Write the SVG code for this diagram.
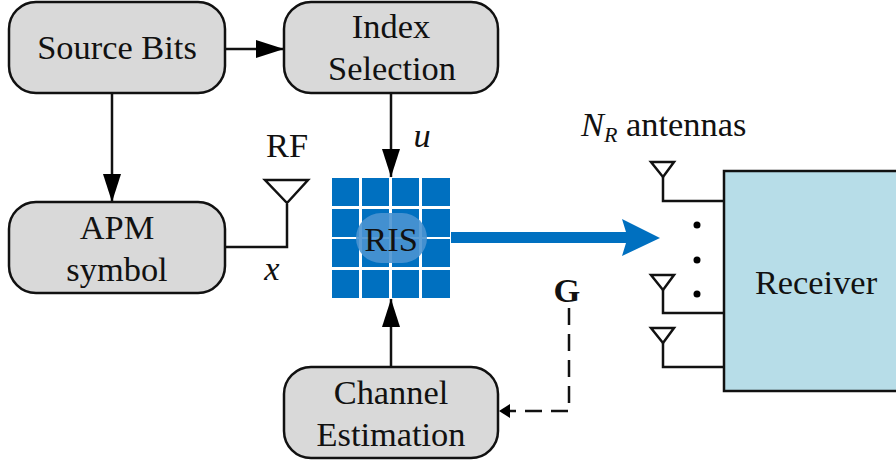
<svg xmlns="http://www.w3.org/2000/svg" width="896" height="462" viewBox="0 0 896 462">
<style>
text{font-family:"Liberation Serif","Times New Roman",serif;font-size:34.4px;fill:#111;text-anchor:middle}
.i{font-style:italic}
.box{fill:#d9d9d9;stroke:#111;stroke-width:2.5}
.w{fill:none;stroke:#111;stroke-width:2.5}
.ant{fill:#fff;stroke:#111;stroke-width:2.5}
.c{fill:#0070c0}
</style>
<defs>
<marker id="a" markerUnits="userSpaceOnUse" markerWidth="28" markerHeight="18" refX="28" refY="9" orient="auto" viewBox="0 0 28 18"><path d="M0 0L28 9L0 18z" fill="#000"/></marker>
</defs>
<rect width="896" height="462" fill="#fff"/>
<g id="connectors">
<path class="w" d="M225 49H284" marker-end="url(#a)"/>
<path class="w" d="M112 93V202" marker-end="url(#a)"/>
<path class="w" d="M391 93V177" marker-end="url(#a)"/>
<path class="w" d="M391 366V299" marker-end="url(#a)"/>
<path class="w" d="M225 247H287V204"/>
<path class="w" stroke-dasharray="17 9" d="M569 308V411H510"/>
<path d="M510 404L499 411L510 418z" fill="#000"/>
<path d="M451 232H626L622 219L660 238L622 256L626 243H451z" class="c"/>
</g>
<g id="source-bits"><rect class="box" x="9" y="2" width="216" height="91" rx="27"/><text x="117" y="58.500">Source Bits</text></g>
<g id="index-selection"><rect class="box" x="284" y="2" width="214" height="91" rx="27"/><text x="391" y="38">Index</text><text x="392" y="80">Selection</text></g>
<g id="apm-symbol"><rect class="box" x="9" y="202" width="216" height="91" rx="27"/><text x="117" y="239">APM</text><text x="117" y="281">symbol</text></g>
<g id="channel-estimation"><rect class="box" x="284" y="367" width="214" height="91" rx="27"/><text x="391" y="404">Channel</text><text x="391" y="446">Estimation</text></g>
<g id="rf-antenna"><path class="ant" d="M265 180H308L287 203z"/><text x="287" y="157">RF</text><text class="i" x="272" y="280">x</text></g>
<text class="i" x="422" y="147">u</text>
<g id="ris">
<rect class="c" x="332" y="178" width="27" height="28"/><rect class="c" x="362" y="178" width="27" height="28"/><rect class="c" x="392" y="178" width="27" height="28"/><rect class="c" x="422" y="178" width="28" height="28"/>
<rect class="c" x="332" y="209" width="27" height="28"/><rect class="c" x="362" y="209" width="27" height="28"/><rect class="c" x="392" y="209" width="27" height="28"/><rect class="c" x="422" y="209" width="28" height="28"/>
<rect class="c" x="332" y="239" width="27" height="28"/><rect class="c" x="362" y="239" width="27" height="28"/><rect class="c" x="392" y="239" width="27" height="28"/><rect class="c" x="422" y="239" width="28" height="28"/>
<rect class="c" x="332" y="270" width="27" height="28"/><rect class="c" x="362" y="270" width="27" height="28"/><rect class="c" x="392" y="270" width="27" height="28"/><rect class="c" x="422" y="270" width="28" height="28"/>
<rect x="356" y="213" width="71" height="50" rx="25" fill="#4a94d2" fill-opacity=".9"/>
<text x="391" y="251">RIS</text>
</g>
<g id="receiver">
<path class="w" d="M663 177V201H724M663 290V313H724M663 343V367H724"/>
<path class="ant" d="M651 162H674L663 177z"/><path class="ant" d="M651 275H674L663 290z"/><path class="ant" d="M651 328H674L663 343z"/>
<circle cx="697" cy="225" r="3.500" fill="#000"/><circle cx="697" cy="260" r="3.500" fill="#000"/><circle cx="697" cy="294" r="3.500" fill="#000"/>
<rect x="724" y="171" width="175" height="220" fill="#b7dde8" stroke="#111" stroke-width="2.5"/>
<text x="816" y="294">Receiver</text>
</g>
<text x="581" y="136" style="text-anchor:start"><tspan class="i">N</tspan><tspan class="i" dy="6" style="font-size:22px">R</tspan><tspan dy="-6"> antennas</tspan></text>
<text x="567" y="302" style="font-weight:bold">G</text>
</svg>
